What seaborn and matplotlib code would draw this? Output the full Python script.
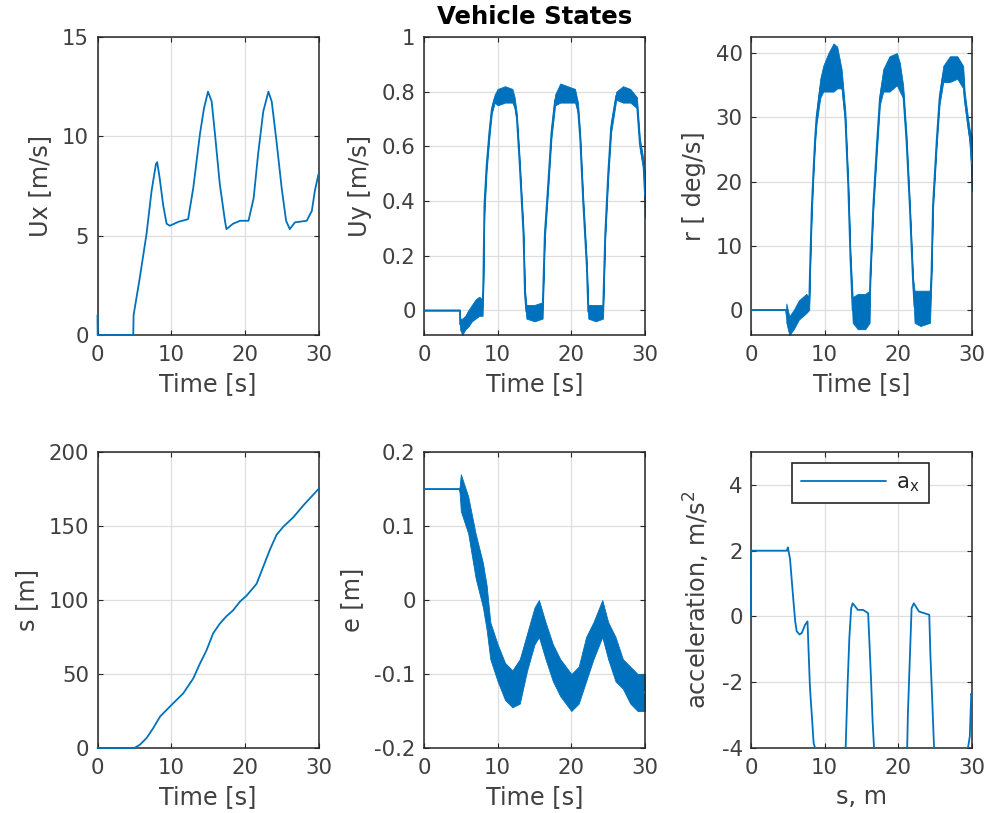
import numpy as np
import pandas as pd
import matplotlib
matplotlib.use("Agg")
import matplotlib.pyplot as plt
from matplotlib.ticker import FuncFormatter
from matplotlib.patches import Rectangle
import seaborn as sns

# ---------------- data ----------------
ux_t = [0, 0.02, 4.85, 4.9, 5.75, 6.66, 7.34, 7.93, 8.1, 8.4, 8.93, 9.38, 9.83, 11.0, 12.3,
        13.0, 13.9, 14.45, 15.0, 15.5, 15.95, 16.6, 17.3, 17.5, 18.4, 19.35, 20.5, 21.2, 21.8,
        22.5, 23.2, 23.65, 24.3, 25.0, 25.6, 26.1, 26.8, 28.4, 29.1, 29.5, 30.0]
ux_v = [1.0, 0.0, 0.0, 1.0, 2.9, 5.1, 7.25, 8.6, 8.7, 8.0, 6.5, 5.6, 5.5, 5.7, 5.83,
        7.4, 10.1, 11.4, 12.25, 11.75, 10.1, 7.6, 5.75, 5.33, 5.6, 5.75, 5.75, 6.9, 9.1,
        11.25, 12.25, 11.75, 9.75, 7.4, 5.75, 5.33, 5.67, 5.75, 6.25, 7.25, 8.1]

uy_t = [0, 4.88, 4.9, 5.2, 5.6, 6.0, 6.5, 7.0, 7.5, 7.95, 8.05, 8.2, 8.5, 8.87, 9.2, 9.6,
        10.0, 11.0, 12.0, 12.3, 12.6, 13.0, 13.5, 13.7, 13.9, 15.0, 16.1, 16.4, 16.9, 17.3,
        17.8, 18.5, 19.5, 20.5, 20.9, 21.2, 21.6, 22.1, 22.3, 23.3, 24.3, 24.6, 25.0, 25.4,
        26.1, 27.0, 28.0, 28.9, 29.3, 29.8, 30.0]
uy_lo = [0, 0, -0.07, -0.09, -0.07, -0.06, -0.04, -0.03, -0.02, -0.02, 0.08, 0.35, 0.51, 0.63,
         0.72, 0.76, 0.75, 0.76, 0.76, 0.74, 0.69, 0.51, 0.26, 0.04, -0.03, -0.04, -0.03, 0.26,
         0.46, 0.63, 0.75, 0.76, 0.76, 0.76, 0.72, 0.61, 0.38, 0.14, -0.03, -0.04, -0.03, 0.26,
         0.48, 0.65, 0.77, 0.76, 0.76, 0.74, 0.59, 0.51, 0.34]
uy_hi = [0, 0, -0.03, -0.03, -0.02, 0.0, 0.02, 0.04, 0.05, 0.04, 0.12, 0.42, 0.55, 0.67,
         0.75, 0.79, 0.81, 0.82, 0.81, 0.78, 0.72, 0.55, 0.30, 0.08, 0.02, 0.02, 0.03, 0.30,
         0.50, 0.67, 0.79, 0.83, 0.82, 0.81, 0.76, 0.65, 0.42, 0.18, 0.02, 0.02, 0.02, 0.30,
         0.52, 0.69, 0.80, 0.82, 0.81, 0.78, 0.63, 0.55, 0.50]

r_t = [0, 4.76, 4.8, 5.2, 5.8, 6.5, 7.0, 7.5, 7.9, 8.0, 8.25, 8.5, 8.7, 8.9, 9.4, 9.8, 10.5,
       11.2, 11.7, 12.3, 12.8, 13.2, 13.5, 13.8, 14.5, 15.5, 16.1, 16.2, 16.6, 17.05, 17.5,
       17.95, 18.8, 19.8, 20.2, 20.65, 21.1, 21.55, 22.0, 22.2, 23.0, 24.3, 24.5, 24.7, 25.2,
       25.6, 26.1, 27.0, 28.0, 28.8, 29.0, 29.45, 29.7, 30.0]
r_lo = [0, 0, -2, -3.9, -3, -1.5, -1, -0.5, 0, 5, 15, 21.5, 26, 29, 33, 34, 34, 34, 34.5,
        34.5, 29, 18.5, 7, -2, -3, -3, -2, 4.5, 15.5, 24, 32, 34, 34, 35, 34, 33, 25.5, 15.5,
        3.5, -2, -2.5, -2, 5, 15.5, 25.5, 32, 35.5, 35.5, 36, 34.5, 32, 28, 26, 18.5]
r_hi = [0, 0, 1, -1, 0, 1.5, 2, 2.5, 2, 7, 17, 23, 27.5, 31, 36, 38, 40, 41.5, 41, 37.5,
        31, 20, 9, 2, 2.5, 2.5, 3, 6, 17, 26, 34, 37.5, 39.5, 40, 38.5, 35, 27.5, 17, 5, 3,
        3, 3, 6.5, 17, 27, 34, 38, 39.5, 39.5, 38, 34, 30, 28, 27]

s_t = [0, 5.0, 5.75, 6.66, 7.57, 8.5, 9.83, 11.65, 13.0, 13.9, 14.8, 15.7, 16.6, 17.5, 18.4,
       19.35, 20.25, 21.6, 22.5, 23.4, 24.3, 25.2, 26.6, 27.96, 30.0]
s_v = [0, 0, 2.2, 6.7, 13.5, 21.3, 28, 37, 47, 57, 66, 77.5, 84, 89, 93, 99, 103, 111, 122.5,
       134, 144, 149.4, 156, 164, 175]

e_t = [0, 4.8, 5.0, 6.0, 7.0, 8.0, 8.5, 9.0, 10.0, 11.0, 12.0, 13.0, 14.0, 15.0, 15.6, 16.5,
       17.5, 18.5, 20.0, 21.0, 22.0, 23.0, 24.2, 25.0, 26.0, 27.0, 28.0, 29.0, 30.0]
e_lo = [0.15, 0.15, 0.12, 0.09, 0.03, -0.01, -0.04, -0.08, -0.11, -0.135, -0.145, -0.14,
        -0.095, -0.06, -0.05, -0.08, -0.11, -0.13, -0.15, -0.14, -0.11, -0.08, -0.05, -0.08,
        -0.11, -0.12, -0.14, -0.15, -0.15]
e_hi = [0.15, 0.15, 0.17, 0.14, 0.09, 0.05, 0.02, -0.03, -0.06, -0.085, -0.095, -0.08,
        -0.045, -0.01, 0.0, -0.03, -0.06, -0.08, -0.10, -0.09, -0.05, -0.03, 0.0, -0.03,
        -0.05, -0.08, -0.09, -0.10, -0.10]

ax_t = [0, 0.02, 4.87, 5.0, 5.3, 5.55, 5.77, 6.0, 6.2, 6.6, 6.9, 7.35, 7.67, 7.8, 8.0, 8.3,
        8.5, 8.7, 9.0, 12.6, 12.85, 13.1, 13.35, 13.6, 13.8, 14.5, 15.2, 15.9, 16.05, 16.3,
        16.5, 16.7, 17.0, 21.0, 21.2, 21.3, 21.55, 21.8, 22.1, 22.8, 23.5, 24.2, 24.35, 24.6,
        24.85, 25.1, 29.2, 29.45, 29.7, 29.9, 30.0]
ax_v = [0, 2.0, 2.0, 2.1, 1.75, 1.05, 0.45, -0.15, -0.45, -0.55, -0.5, -0.25, -0.15, -0.95,
        -2.15, -3.15, -3.85, -4.0, -5.0, -5.0, -4.0, -2.15, -0.65, 0.25, 0.4, 0.2, 0.2, 0.1,
        -0.65, -1.95, -3.15, -4.0, -5.0, -5.0, -4.0, -2.95, -1.35, 0.25, 0.4, 0.15, 0.1, 0.05,
        -1.15, -2.55, -4.0, -5.0, -5.0, -4.0, -3.65, -2.35, -2.4]

x_ticks = [0, 10, 20, 30]
title = "Vehicle States"

# ---------------- style ----------------
sns.set_style("ticks")
BLUE = "#0072BD"
DARK = "#262626"
TXT = "#404040"
TICK_FS = 15.3
LABEL_FS = 17.3
plt.rcParams.update({
    "font.family": ["DejaVu Sans"],
    "axes.unicode_minus": False,
    "axes.edgecolor": DARK,
    "axes.linewidth": 1.1,
    "xtick.color": DARK, "ytick.color": DARK,
    "xtick.labelcolor": TXT, "ytick.labelcolor": TXT,
    "xtick.direction": "in", "ytick.direction": "in",
    "xtick.top": True, "ytick.right": True,
    "xtick.major.size": 3.5, "ytick.major.size": 3.5,
    "xtick.major.width": 0.8, "ytick.major.width": 0.8,
    "xtick.labelsize": TICK_FS, "ytick.labelsize": TICK_FS,
    "axes.labelsize": LABEL_FS, "axes.labelcolor": TXT,
    "grid.color": "#dedede", "grid.linewidth": 0.9,
})

fig = plt.figure(figsize=(9.89, 8.13), dpi=100)
W, H = 989.0, 813.0
cols = [97.5, 424.0, 751.0]
rows = [(37.0, 335.0), (452.0, 748.0)]
axes = []
for (top, bot) in rows:
    for left in cols:
        a = fig.add_axes([left / W, 1 - bot / H, 221.0 / W, (bot - top) / H])
        axes.append(a)


def band_df(t, lo, hi):
    return pd.DataFrame({"t": list(t) + list(t), "v": list(lo) + list(hi)})


lw = 1.3
band_kws = {"alpha": 1, "linewidth": 0.6, "edgecolor": BLUE}

a = axes[0]
sns.lineplot(data=pd.DataFrame({"t": ux_t, "v": ux_v}), x="t", y="v", ax=a, color=BLUE,
             lw=lw, errorbar=None, zorder=3)
a.set_ylim(0, 15); a.set_yticks([0, 5, 10, 15]); a.set_ylabel("Ux [m/s]")

a = axes[1]
sns.lineplot(data=band_df(uy_t, uy_lo, uy_hi), x="t", y="v", ax=a, color=BLUE, lw=lw,
             errorbar=("pi", 100), err_kws=band_kws, zorder=3)
a.set_ylim(-0.09, 1.0); a.set_yticks([0, 0.2, 0.4, 0.6, 0.8, 1]); a.set_ylabel("Uy [m/s]")
a.set_title(title, fontsize=17.6, fontweight="bold", pad=9, color="black")

a = axes[2]
sns.lineplot(data=band_df(r_t, r_lo, r_hi), x="t", y="v", ax=a, color=BLUE, lw=lw,
             errorbar=("pi", 100), err_kws=band_kws, zorder=3)
a.set_ylim(-3.9, 42.5); a.set_yticks([0, 10, 20, 30, 40]); a.set_ylabel("r [ deg/s]")

a = axes[3]
sns.lineplot(data=pd.DataFrame({"t": s_t, "v": s_v}), x="t", y="v", ax=a, color=BLUE,
             lw=lw, errorbar=None, zorder=3)
a.set_ylim(0, 200); a.set_yticks([0, 50, 100, 150, 200]); a.set_ylabel("s [m]")

a = axes[4]
sns.lineplot(data=band_df(e_t, e_lo, e_hi), x="t", y="v", ax=a, color=BLUE, lw=lw,
             errorbar=("pi", 100), err_kws=band_kws, zorder=3)
a.set_ylim(-0.2, 0.2); a.set_yticks([-0.2, -0.1, 0, 0.1, 0.2]); a.set_ylabel("e [m]")

a = axes[5]
sns.lineplot(data=pd.DataFrame({"t": ax_t, "v": ax_v}), x="t", y="v", ax=a, color=BLUE,
             lw=lw, errorbar=None, zorder=3, label=r"a$_\mathregular{x}$")
a.set_ylim(-4, 5); a.set_yticks([-4, -2, 0, 2, 4])
a.set_ylabel(r"acceleration, m/s$^\mathregular{2}$")
leg = a.legend(loc="upper center", bbox_to_anchor=(0.495, 0.978), fontsize=TICK_FS,
               handlelength=4.0, frameon=True, fancybox=False, borderpad=0.45,
               handletextpad=0.45, borderaxespad=0.2)
leg.get_frame().set_edgecolor(DARK)
leg.get_frame().set_linewidth(1.2)
leg.get_frame().set_alpha(1)

# let the lines sit on top of the box edges (as in the reference)
for i in (0, 3):
    for ln in axes[i].lines:
        ln.set_clip_on(False)
for ln in axes[5].lines:
    ln.set_clip_path(Rectangle((-0.01, 0.0), 1.02, 1.01, transform=axes[5].transAxes))

fmt = FuncFormatter(lambda v, p: "%g" % round(v, 6))
for i, a in enumerate(axes):
    a.set_xlim(0, 30)
    a.set_xticks(x_ticks)
    a.xaxis.set_major_formatter(fmt)
    a.yaxis.set_major_formatter(fmt)
    a.grid(True)
    a.set_axisbelow(True)
    a.set_xlabel("s, m" if i == 5 else "Time [s]")
    for sp in a.spines.values():
        sp.set_visible(True)
        sp.set_color(DARK)
    a.tick_params(axis="x", pad=7)
    a.tick_params(axis="y", pad=6)
    a.xaxis.labelpad = 5
    a.yaxis.labelpad = 7

fig.savefig("out.png", dpi=100)
